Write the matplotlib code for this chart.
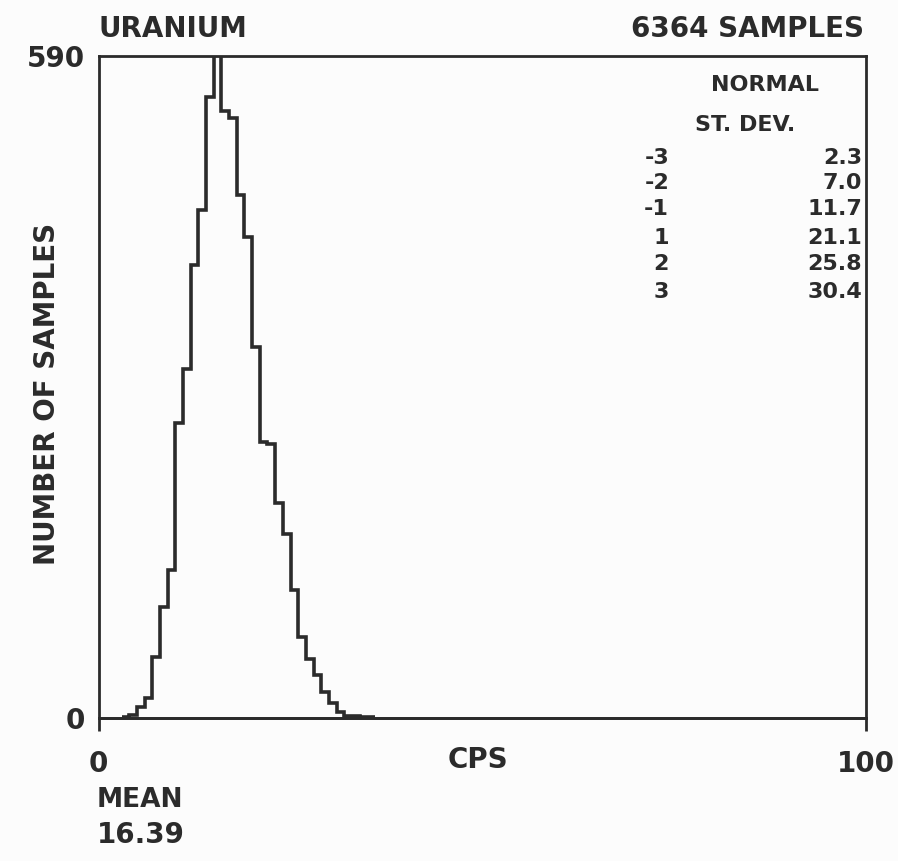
# Uranium count histogram, redrawn from a scanned plot
import matplotlib.pyplot as plt
import numpy as np

# counts per 1-CPS bin, starting at 3 CPS
bin_start = 3
counts = [1, 3, 10, 18, 54, 99, 132, 263, 311, 404, 453, 553, 591,
          541, 535, 466, 429, 331, 246, 244, 192, 164, 114, 72, 53,
          38, 23, 13, 5, 2, 2, 1, 1]
edges = np.arange(bin_start, bin_start + len(counts) + 1)

sd_labels = ["-3", "-2", "-1", "1", "2", "3"]
sd_values = ["2.3", "7.0", "11.7", "21.1", "25.8", "30.4"]

ink = "#2b2b2b"
font = dict(family="DejaVu Sans", fontweight="bold", color=ink)

fig = plt.figure(figsize=(8.98, 8.61), dpi=100, facecolor="#fcfcfc")
ax = fig.add_axes([0.110, 0.166, 0.854, 0.769])
ax.set_facecolor("#fcfcfc")

ax.stairs(counts, edges, color=ink, linewidth=2.6, baseline=None)
ax.plot([0, 100], [0, 0], color=ink, linewidth=2.0, clip_on=False)

ax.set_xlim(0, 100)
ax.set_ylim(0, 590)
for s in ax.spines.values():
    s.set_linewidth(2.0)
    s.set_color(ink)

ax.set_xticks([0, 100])
ax.set_xticklabels(["0", "100"], fontsize=20, **font)
ax.set_yticks([0, 590])
ax.set_yticklabels(["0", "590"], fontsize=20, **font)
ax.tick_params(axis="x", length=9, width=2.0, color=ink, pad=14, direction="out")
ax.tick_params(axis="y", length=0, pad=10)

fig.text(0.052, 0.542, "NUMBER OF SAMPLES", fontsize=20, rotation=90,
         ha="center", va="center", **font)

fig.text(0.110, 0.966, "URANIUM", fontsize=20, ha="left", va="center", **font)
fig.text(0.962, 0.966, "6364 SAMPLES", fontsize=20, ha="right", va="center", **font)
fig.text(0.532, 0.117, "CPS", fontsize=20, ha="center", va="center", **font)
fig.text(0.108, 0.071, "MEAN", fontsize=19, ha="left", va="center", **font)
fig.text(0.108, 0.030, "16.39", fontsize=20, ha="left", va="center", **font)

# normal standard deviation table
fig.text(0.852, 0.901, "NORMAL", fontsize=16, ha="center", va="center", **font)
fig.text(0.830, 0.855, "ST. DEV.", fontsize=16, ha="center", va="center", **font)
row_y = [0.817, 0.788, 0.757, 0.724, 0.693, 0.661]
for lab, val, y in zip(sd_labels, sd_values, row_y):
    fig.text(0.745, y, lab, fontsize=16, ha="right", va="center", **font)
    fig.text(0.960, y, val, fontsize=16, ha="right", va="center", **font)

fig.savefig("out.png", dpi=100, facecolor=fig.get_facecolor())
